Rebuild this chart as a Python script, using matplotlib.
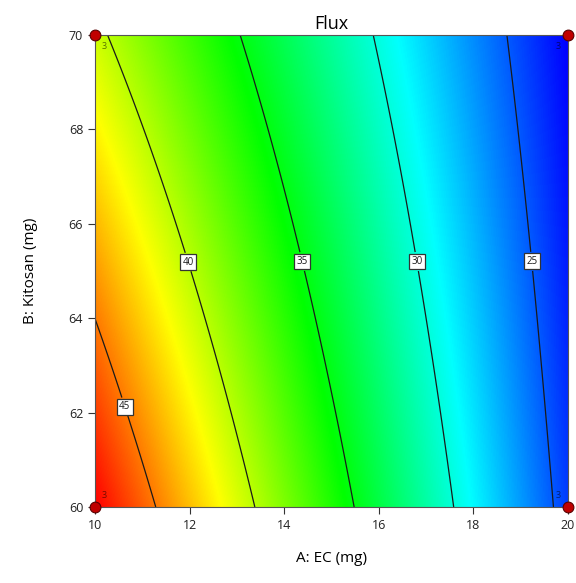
import matplotlib
matplotlib.use("Agg")
import matplotlib.pyplot as plt
import numpy as np
from matplotlib.colors import LinearSegmentedColormap

plt.rcParams['font.family'] = ['Open Sans', 'DejaVu Sans']

# contour crossings: (A: EC, B: Kitosan, Flux)
pts_A = [10.25, 13.07, 15.86, 18.77,
         11.12, 13.74, 16.32, 18.94,
         12.01, 14.38, 16.79, 19.20,
         10.72, 12.92, 15.14, 17.34, 19.56,
         11.23, 13.34, 15.45, 17.57, 19.68,
         10.00, 10.47]
pts_B = [70, 70, 70, 70,
         67.75, 67.75, 67.75, 67.75,
         65.2, 65.2, 65.2, 65.2,
         61.82, 61.82, 61.82, 61.82, 61.82,
         60.13, 60.13, 60.13, 60.13, 60.13,
         63.96, 62.69]
pts_F = [40, 35, 30, 25,
         40, 35, 30, 25,
         40, 35, 30, 25,
         45, 40, 35, 30, 25,
         45, 40, 35, 30, 25,
         45, 45]

levels = [25, 30, 35, 40, 45]
label_pos = [(19.2, 65.2), (16.8, 65.2), (14.38, 65.2), (12.0, 65.2), (10.68, 62.14)]
design_A = [10, 10, 20, 20]
design_B = [60, 70, 60, 70]
design_n = ['3', '3', '3', '3']

# quadratic response surface in coded units
def terms(a, b):
    x1 = (np.asarray(a) - 15) / 5.0
    x2 = (np.asarray(b) - 65) / 5.0
    return np.stack([np.ones_like(x1), x1, x2, x1 * x2, x1 ** 2, x2 ** 2], axis=-1)

coef, *_ = np.linalg.lstsq(terms(pts_A, pts_B), np.array(pts_F, float), rcond=None)

a = np.linspace(10, 20, 400)
b = np.linspace(60, 70, 400)
AA, BB = np.meshgrid(a, b)
FF = terms(AA, BB) @ coef

cmap = LinearSegmentedColormap.from_list(
    'de', ['#0000ff', '#00ffff', '#00ff00', '#ffff00', '#ff0000'])

fig = plt.figure(figsize=(5.76, 5.83), dpi=100)
ax = fig.add_axes([95 / 576, 1 - 507 / 583, 473 / 576, 472 / 583])

ax.imshow(FF, origin='lower', extent=[10, 20, 60, 70], aspect='auto',
          cmap=cmap, vmin=FF.min(), vmax=FF.max(), interpolation='bilinear')
cs = ax.contour(AA, BB, FF, levels=levels, colors='#1a1a1a', linewidths=0.9)
lbls = ax.clabel(cs, fmt='%d', fontsize=7, manual=label_pos, inline=True,
                 inline_spacing=4)
for t in lbls:
    t.set_rotation(0)
    t.set_bbox(dict(boxstyle='square,pad=0.25', fc='white', ec='#333333', lw=0.9))

ax.scatter(design_A, design_B, s=60, c='#c00000', edgecolors='#5a0000',
           linewidths=0.8, zorder=5, clip_on=False)
for xa, yb, n in zip(design_A, design_B, design_n):
    dx = 5 if xa == 10 else -5
    dy = 5 if yb == 60 else -5
    ax.annotate(n, (xa, yb), xytext=(dx, dy), textcoords='offset points',
                fontsize=6.5, color='black', alpha=0.55, zorder=6,
                ha='left' if xa == 10 else 'right',
                va='bottom' if yb == 60 else 'top')

ax.set_xlim(10, 20)
ax.set_ylim(60, 70)
ax.set_xticks([10, 12, 14, 16, 18, 20])
ax.set_yticks([60, 62, 64, 66, 68, 70])
ax.tick_params(direction='out', length=5, labelsize=9, colors='#333333',
               labelcolor='#222222')
for s in ax.spines.values():
    s.set_color('#555555')

ax.set_title('Flux', fontsize=13, pad=4)
ax.set_xlabel('A: EC (mg)', fontsize=11, labelpad=14)
ax.set_ylabel('B: Kitosan (mg)', fontsize=11, labelpad=22)

fig.savefig('out.png', dpi=100)
